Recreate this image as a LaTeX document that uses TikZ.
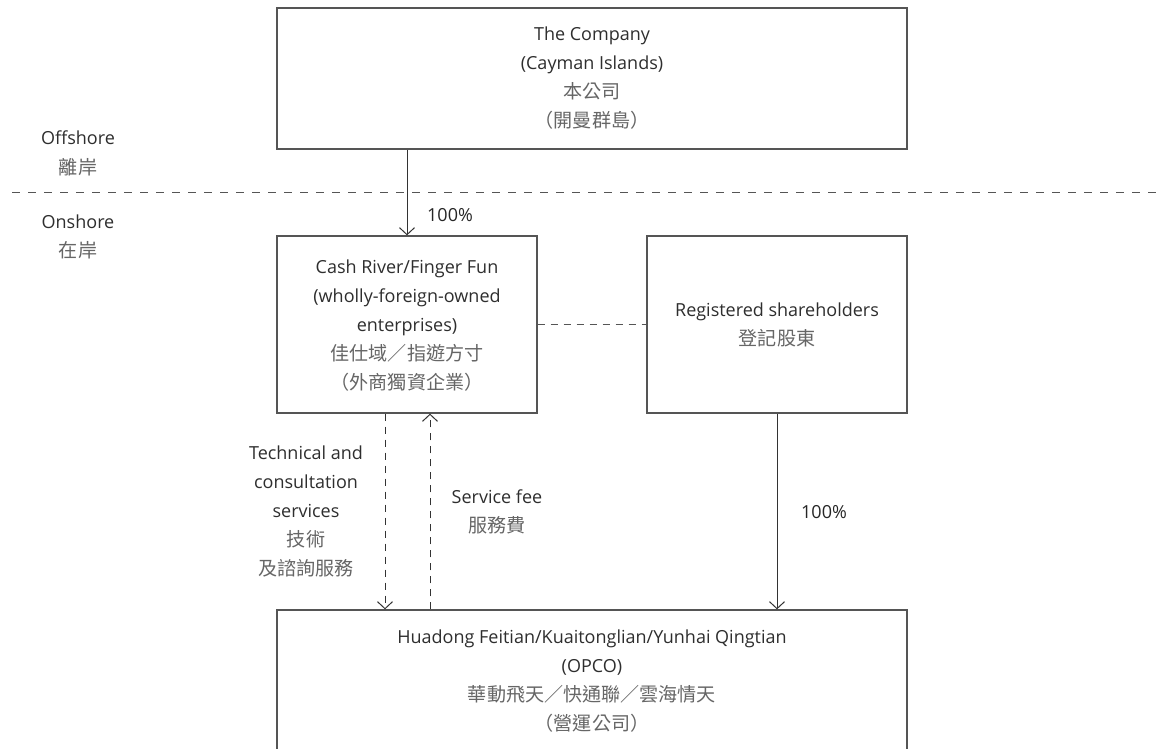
\documentclass[tikz,border=0pt]{standalone}
\usepackage{fontspec}
\setmainfont{Open Sans}
\newfontfamily\cjk[Scale=1.06]{Noto Sans CJK TC}
\usetikzlibrary{arrows.meta}
\definecolor{linegray}{HTML}{555555}
\definecolor{arrgray}{HTML}{333333}
\definecolor{txt}{HTML}{2E2E2E}
\definecolor{cjkgray}{HTML}{666666}
\newcommand{\zh}[1]{{\cjk\color{cjkgray}#1}}
\begin{document}
\begin{tikzpicture}[x=1pt,y=-1pt,
  box/.style={draw=linegray, line width=1.3pt, rectangle, inner sep=0pt, align=center, text=txt, font=\fontsize{18}{29}\selectfont},
  lbl/.style={align=center, text=txt, font=\fontsize{18}{29}\selectfont, inner sep=0pt},
  pct/.style={text=black!85, font=\fontsize{18}{20}\selectfont, inner sep=0pt},
  arr/.style={draw=arrgray, line width=1pt, -{Straight Barb[length=7pt,width=15pt]}},
  dasharr/.style={arr, dash pattern=on 7pt off 6pt},
  ]
\useasboundingbox[fill=white] (0,0) rectangle (1164,749);

% separator
\coordinate (sepL) at (12,192);
\coordinate (sepR) at (1164,192);
\draw[linegray, line width=1pt, dash pattern=on 8pt off 8pt] (sepL) -- (sepR);

% region labels
\node[lbl] (off) at (78,138) {Offshore};
\node[lbl] (offzh) at (78,167) {\zh{離岸}};
\node[lbl] (on) at (78,222) {Onshore};
\node[lbl] (onzh) at (78,250) {\zh{在岸}};

% boxes
\node[box, minimum width=630pt, minimum height=141pt] (company) at (592,78.5)
  {The Company\\(Cayman Islands)\\\zh{本公司}\\\zh{（開曼群島）}};
\node[box, minimum width=260pt, minimum height=177pt] (cash) at (407,324.5) {};
\node[lbl] (cashtext) at (407,326)
  {Cash River/Finger Fun\\(wholly-foreign-owned\\enterprises)\\\zh{佳仕域／指遊方寸}\\\zh{（外商獨資企業）}};
\node[box, minimum width=260pt, minimum height=177pt] (reg) at (777,324.5)
  {Registered shareholders\\\zh{登記股東}};
\node[box, minimum width=630pt, minimum height=170pt] (opco) at (592,695) {};
\node[lbl] (opcotext) at (592,681)
  {Huadong Feitian/Kuaitonglian/Yunhai Qingtian\\(OPCO)\\\zh{華動飛天／快通聯／雲海情天}\\\zh{（營運公司）}};

% connectors
\draw[arr] (cash.north |- company.south) -- (cash.north);
\node[pct] (p1) at (450,215) {100\%};
\draw[linegray, line width=1pt, dash pattern=on 7pt off 6pt] (cash.east) -- (reg.west);
\draw[arr] (reg.south) -- (reg.south |- opco.north);
\node[pct] (p2) at (824,512) {100\%};

\coordinate (dn) at ([xshift=-22pt]cash.south);
\coordinate (up) at ([xshift=23pt]cash.south);
\draw[dasharr] (dn) -- (dn |- opco.north);
\draw[dasharr] (up |- opco.north) -- (up);

\node[lbl] (tech) at (306,511)
  {Technical and\\consultation\\services\\\zh{技術}\\\zh{及諮詢服務}};
\node[lbl] (fee) at (497,512) {Service fee\\\zh{服務費}};
\end{tikzpicture}
\end{document}
